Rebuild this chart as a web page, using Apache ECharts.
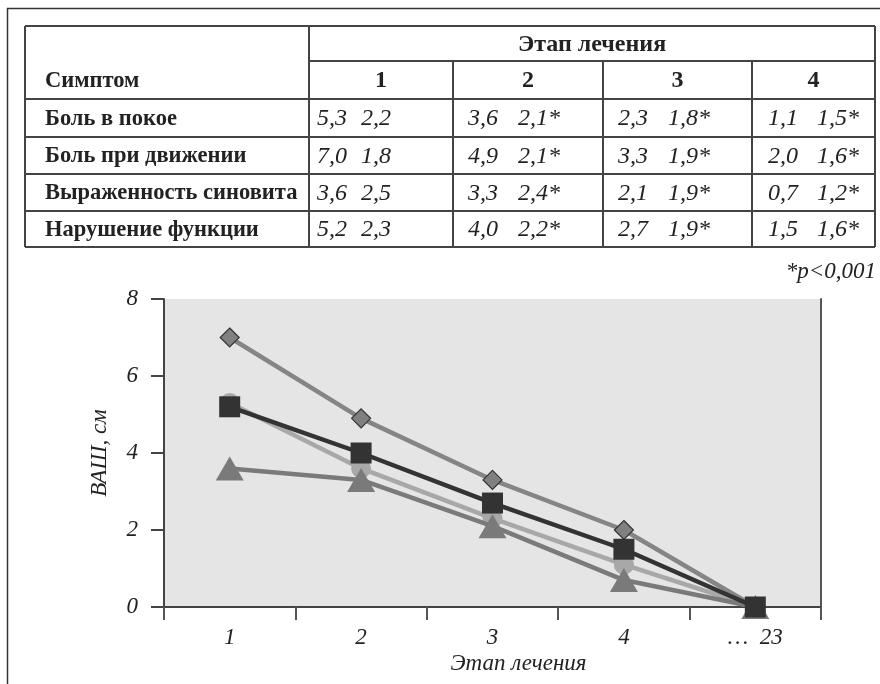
<!DOCTYPE html>
<html>
<head>
<meta charset="utf-8">
<script src="https://cdn.jsdelivr.net/npm/echarts@6/dist/echarts.min.js"></script>
<style>
  html, body { margin: 0; padding: 0; background: #fff; }
  #chart { width: 880px; height: 684px; }
</style>
</head>
<body>
<div id="chart"></div>
<script>
// Treatment stages (x axis) and symptom names
const stages = ['1', '2', '3', '4', '…  23'];
const tableStages = ['1', '2', '3', '4'];
const symptoms = ['Боль в покое', 'Боль при движении', 'Выраженность синовита', 'Нарушение функции'];

// Mean VAS score per stage (cm); last stage = 0
const painRest    = [5.3, 3.6, 2.3, 1.1, 0];
const painMove    = [7.0, 4.9, 3.3, 2.0, 0];
const synovitis   = [3.6, 3.3, 2.1, 0.7, 0];
const dysfunction = [5.2, 4.0, 2.7, 1.5, 0];

// Standard deviations for the table
const painRestSD    = [2.2, 2.1, 1.8, 1.5];
const painMoveSD    = [1.8, 2.1, 1.9, 1.6];
const synovitisSD   = [2.5, 2.4, 1.9, 1.2];
const dysfunctionSD = [2.3, 2.2, 1.9, 1.6];

// Stages whose change is significant (p<0.001)
const significant = [false, true, true, true];

const yTicks = [0, 2, 4, 6, 8];

const SERIF = '"Liberation Serif", "Times New Roman", serif';
const INK = '#222';
const RULE = '#444';

const fmt = v => v.toFixed(1).replace('.', ',');

// ---- table geometry ----
const colX = [25, 309, 453, 603, 752, 875];
const rowY = [26, 61, 99, 137, 174, 211, 247];
const valOffsets = [[8, 52], [15, 65], [15, 65], [16, 65]];

const tableRows = [
  [symptoms[0], painRest, painRestSD],
  [symptoms[1], painMove, painMoveSD],
  [symptoms[2], synovitis, synovitisSD],
  [symptoms[3], dysfunction, dysfunctionSD]
];

function hline(x1, x2, y) {
  return { type: 'line', silent: true, shape: { x1: x1, y1: y, x2: x2, y2: y }, style: { stroke: RULE, lineWidth: 2 } };
}
function vline(x, y1, y2) {
  return { type: 'line', silent: true, shape: { x1: x, y1: y1, x2: x, y2: y2 }, style: { stroke: RULE, lineWidth: 2 } };
}
function text(str, x, y, font, align) {
  return {
    type: 'text', silent: true,
    style: {
      text: str, x: x, y: y, font: font, fill: INK,
      align: align || 'left', verticalAlign: 'middle',
      textAlign: align || 'left', textVerticalAlign: 'middle'
    }
  };
}

const graphics = [];
// outer frame
graphics.push({ type: 'rect', silent: true, shape: { x: 7.5, y: 8.5, width: 900, height: 700 }, style: { fill: 'none', stroke: '#333', lineWidth: 1.5 } });

// table rules
graphics.push(hline(colX[0], colX[5], rowY[0]));
graphics.push(hline(colX[1], colX[5], rowY[1]));
for (let r = 2; r < rowY.length; r++) graphics.push(hline(colX[0], colX[5], rowY[r]));
graphics.push(vline(colX[0], rowY[0], rowY[6]));
graphics.push(vline(colX[1], rowY[0], rowY[6]));
for (let c = 2; c < 5; c++) graphics.push(vline(colX[c], rowY[1], rowY[6]));
graphics.push(vline(colX[5], rowY[0], rowY[6]));

const boldFont = 'bold 22.5px ' + SERIF;
const numFont = 'bold 24px ' + SERIF;
const italFont = 'italic 24px ' + SERIF;

// header
graphics.push(text('Этап лечения', (colX[1] + colX[5]) / 2, (rowY[0] + rowY[1]) / 2 + 1, 'bold 24px ' + SERIF, 'center'));
graphics.push(text('Симптом', 45, (rowY[1] + rowY[2]) / 2 + 1, boldFont, 'left'));
tableStages.forEach((s, i) => {
  graphics.push(text(s, (colX[i + 1] + colX[i + 2]) / 2, (rowY[1] + rowY[2]) / 2 + 1, numFont, 'center'));
});

// body rows
tableRows.forEach((row, r) => {
  const yMid = (rowY[r + 2] + rowY[r + 3]) / 2 + 1;
  graphics.push(text(row[0], 45, yMid, boldFont, 'left'));
  for (let c = 0; c < 4; c++) {
    const x0 = colX[c + 1];
    graphics.push(text(fmt(row[1][c]), x0 + valOffsets[c][0], yMid, italFont, 'left'));
    graphics.push(text(fmt(row[2][c]) + (significant[c] ? '*' : ''), x0 + valOffsets[c][1], yMid, italFont, 'left'));
  }
});

// footnote
graphics.push(text('*p<0,001', 876, 272, 'italic 23px ' + SERIF, 'right'));

const chart = echarts.init(document.getElementById('chart'), null, { renderer: 'canvas' });

const lineSeries = (name, data, symbol, size, color, lineColor, border, z) => ({
  name: name,
  type: 'line',
  data: data,
  symbol: symbol,
  symbolSize: size,
  showSymbol: true,
  z: z,
  lineStyle: { color: lineColor, width: 4.5 },
  itemStyle: { color: color, borderColor: border || color, borderWidth: border ? 1.2 : 0, opacity: 1 },
  emphasis: { disabled: true },
  animation: false
});

chart.setOption({
  animation: false,
  graphic: { elements: graphics },
  grid: {
    left: 164, right: 59, top: 299, bottom: 77,
    show: true, backgroundColor: '#e5e5e5', borderWidth: 0
  },
  xAxis: {
    type: 'category',
    data: stages,
    boundaryGap: true,
    name: 'Этап лечения',
    nameLocation: 'middle',
    nameGap: 45,
    nameMoveOverlap: false,
    nameTextStyle: { fontFamily: SERIF, fontStyle: 'italic', fontSize: 23, color: INK, padding: [0, 0, 0, 52] },
    axisLine: { lineStyle: { color: RULE, width: 2 } },
    axisTick: { show: true, length: 13, lineStyle: { color: '#555', width: 2 } },
    axisLabel: { fontFamily: SERIF, fontStyle: 'italic', fontSize: 23, color: INK, margin: 19 },
    splitLine: { show: false }
  },
  yAxis: [{
    type: 'value',
    min: yTicks[0], max: yTicks[yTicks.length - 1], interval: 2,
    name: 'ВАШ, см',
    nameLocation: 'middle',
    nameGap: 53,
    nameRotate: 90,
    nameMoveOverlap: false,
    nameTextStyle: { fontFamily: SERIF, fontStyle: 'italic', fontSize: 23, color: INK },
    axisLine: { show: true, lineStyle: { color: RULE, width: 2 } },
    axisTick: { show: true, length: 13, lineStyle: { color: RULE, width: 2 } },
    axisLabel: { fontFamily: SERIF, fontStyle: 'italic', fontSize: 23, color: INK, margin: 26 },
    splitLine: { show: false }
  }, {
    type: 'value',
    position: 'right',
    min: yTicks[0], max: yTicks[yTicks.length - 1], interval: 2,
    axisLine: { show: true, lineStyle: { color: '#555', width: 2 } },
    axisTick: { show: false },
    axisLabel: { show: false },
    splitLine: { show: false }
  }],
  series: [
    lineSeries('Боль в покое', painRest, 'circle', 20, '#a8a8a8', '#a8a8a8', null, 2),
    lineSeries('Выраженность синовита', synovitis, 'triangle', [28, 24], '#7a7a7a', '#7a7a7a', null, 3),
    lineSeries('Боль при движении', painMove, 'diamond', 19, '#808080', '#858585', '#333', 4),
    lineSeries('Нарушение функции', dysfunction, 'rect', 21, '#333', '#333', null, 5)
  ]
});
</script>
</body>
</html>
